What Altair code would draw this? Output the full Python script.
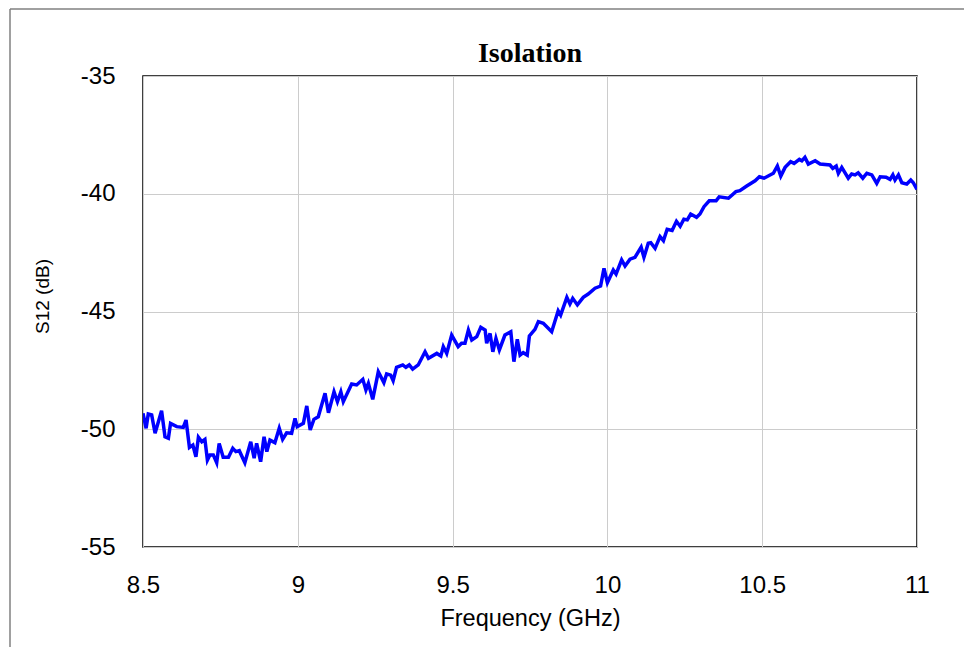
import altair as alt
import pandas as pd

freq_ghz = [
    8.500, 8.510, 8.517, 8.528, 8.539, 8.560, 8.571, 8.582, 8.589, 8.609,
    8.630, 8.639, 8.650, 8.661, 8.671, 8.679, 8.690, 8.700, 8.708, 8.716,
    8.727, 8.738, 8.746, 8.759, 8.776, 8.790, 8.800, 8.811, 8.829, 8.848,
    8.859, 8.867, 8.880, 8.891, 8.900, 8.910, 8.926, 8.940, 8.951, 8.964,
    8.980, 8.991, 8.998, 9.018, 9.029, 9.040, 9.052, 9.066, 9.088, 9.099,
    9.117, 9.128, 9.139, 9.147, 9.174, 9.190, 9.210, 9.220, 9.228, 9.242,
    9.260, 9.278, 9.287, 9.300, 9.308, 9.319, 9.339, 9.349, 9.360, 9.371,
    9.389, 9.411, 9.422, 9.449, 9.462, 9.470, 9.481, 9.497, 9.518, 9.529,
    9.540, 9.551, 9.562, 9.578, 9.591, 9.605, 9.610, 9.621, 9.630, 9.640,
    9.651, 9.669, 9.688, 9.698, 9.709, 9.718, 9.728, 9.741, 9.748, 9.766,
    9.777, 9.793, 9.820, 9.841, 9.849, 9.869, 9.879, 9.888, 9.903, 9.922,
    9.938, 9.960, 9.978, 9.989, 10.000, 10.019, 10.028, 10.046, 10.057, 10.073,
    10.089, 10.109, 10.118, 10.132, 10.140, 10.154, 10.170, 10.181, 10.193, 10.209,
    10.223, 10.235, 10.247, 10.258, 10.269, 10.288, 10.299, 10.312, 10.329, 10.351,
    10.361, 10.391, 10.415, 10.428, 10.450, 10.477, 10.491, 10.506, 10.536, 10.549,
    10.560, 10.574, 10.592, 10.603, 10.620, 10.628, 10.638, 10.649, 10.671, 10.687,
    10.719, 10.728, 10.739, 10.746, 10.757, 10.778, 10.789, 10.800, 10.810, 10.825,
    10.838, 10.854, 10.870, 10.881, 10.900, 10.913, 10.922, 10.929, 10.940, 10.951,
    10.967, 10.980, 10.988, 11.000,
]

s12_db = [
    -49.32, -49.96, -49.35, -49.39, -50.17, -49.21, -50.32, -50.38, -49.75, -49.89,
    -49.92, -49.61, -50.77, -50.67, -51.17, -50.34, -50.53, -50.43, -51.31, -51.09,
    -51.09, -51.42, -50.60, -51.19, -51.19, -50.81, -50.95, -50.91, -51.42, -50.53,
    -51.23, -50.60, -51.38, -50.32, -50.95, -50.46, -50.57, -49.96, -50.43, -50.15,
    -50.17, -49.54, -49.89, -49.75, -49.01, -50.03, -49.58, -49.47, -48.47, -49.30,
    -48.41, -48.83, -48.41, -48.83, -48.08, -48.12, -47.88, -48.33, -48.05, -48.73,
    -47.56, -48.02, -47.65, -47.70, -47.94, -47.37, -47.27, -47.37, -47.27, -47.45,
    -47.27, -46.71, -46.99, -46.78, -46.89, -46.49, -46.78, -46.00, -46.49, -46.35,
    -46.35, -45.79, -46.21, -46.07, -45.67, -45.79, -46.35, -45.93, -46.71, -46.14,
    -46.63, -46.00, -45.86, -47.13, -46.18, -46.85, -46.75, -46.85, -46.04, -45.76,
    -45.43, -45.50, -45.86, -44.97, -45.15, -44.40, -44.68, -44.44, -44.72, -44.40,
    -44.26, -44.01, -43.92, -43.17, -43.78, -43.24, -43.41, -42.81, -43.07, -42.78,
    -42.70, -42.27, -42.70, -42.10, -42.08, -42.32, -41.82, -41.99, -41.51, -41.56,
    -41.17, -41.38, -41.08, -41.11, -40.86, -41.00, -40.86, -40.55, -40.30, -40.30,
    -40.13, -40.19, -39.91, -39.87, -39.67, -39.45, -39.28, -39.34, -39.13, -38.82,
    -39.25, -38.88, -38.64, -38.71, -38.54, -38.60, -38.45, -38.74, -38.60, -38.74,
    -38.78, -38.92, -38.82, -39.13, -38.88, -39.34, -39.16, -39.20, -39.11, -39.34,
    -39.13, -39.20, -39.56, -39.28, -39.30, -39.39, -39.20, -39.42, -39.20, -39.53,
    -39.59, -39.42, -39.53, -39.81,
]

x_ticks = [8.5, 9, 9.5, 10, 10.5, 11]
y_ticks = [-55, -50, -45, -40, -35]

df = pd.DataFrame({"freq": freq_ghz, "s12": s12_db})

FONT = "Liberation Sans"

line = alt.Chart(df).mark_line(color="#0000ff", strokeWidth=3.5, clip=True).encode(
    x=alt.X(
        "freq:Q",
        scale=alt.Scale(domain=[8.5, 11], nice=False, zero=False),
        axis=alt.Axis(
            values=x_ticks,
            labelExpr="datum.value + ''",
            title="Frequency (GHz)",
            titleFontSize=23.5,
            titleX=387,
            titleY=71,
            titleBaseline="middle",
            labelPadding=26,
            labelFlush=False,
        ),
    ),
    y=alt.Y(
        "s12:Q",
        scale=alt.Scale(domain=[-55, -35], nice=False, zero=False),
        axis=alt.Axis(
            values=y_ticks,
            labelExpr="datum.value + ''",
            title="S12 (dB)",
            titleFontSize=19,
            titleX=-101,
            titleY=220,
            titleBaseline="middle",
            labelPadding=28,
            labelFlush=False,
        ),
    ),
)

frame = alt.Chart(alt.Data(values=[{"k": 1}])).mark_rule(
    color="#808080", strokeWidth=1.5
).encode(x=alt.value(-133), y=alt.value(-67), y2=alt.value(700))

frame_top = alt.Chart(alt.Data(values=[{"k": 1}])).mark_rule(
    color="#808080", strokeWidth=1.5
).encode(x=alt.value(-133), x2=alt.value(900), y=alt.value(-67))

chart = (
    alt.layer(frame, frame_top, line)
    .properties(
        width=774,
        height=471,
        padding={"left": 143, "top": 76, "right": 47, "bottom": 100},
        autosize=alt.AutoSizeParams(type="none"),
        title=alt.TitleParams(
            "Isolation",
            font="Liberation Serif",
            fontSize=28,
            fontWeight="bold",
            color="black",
            anchor="middle",
            offset=0,
            dy=60,
        ),
        background="white",
    )
    .configure_view(stroke="black", strokeWidth=1.5)
    .configure_axis(
        domain=False,
        ticks=False,
        tickSize=0,
        grid=True,
        gridColor="#cccccc",
        gridWidth=1,
        labelFont=FONT,
        labelFontSize=24,
        labelColor="black",
        titleFont=FONT,
        titleFontWeight="normal",
        titleColor="black",
    )
)

chart.save("out.html", embed_options={"renderer": "svg", "actions": False})
